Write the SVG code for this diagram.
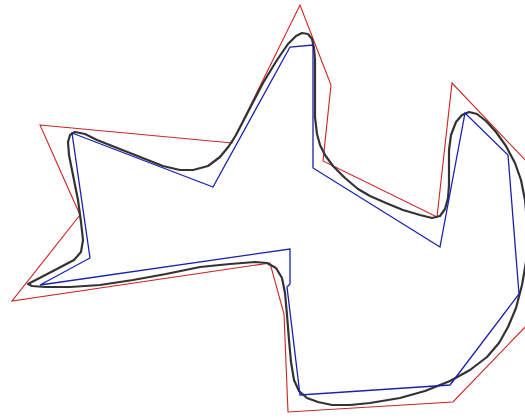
<svg xmlns="http://www.w3.org/2000/svg" width="525" height="419" viewBox="0 0 525 419">
<style>
.red{fill:none;stroke:#d02020;stroke-width:1.1;stroke-linejoin:miter}
.blue{fill:none;stroke:#1a20b0;stroke-width:1.3;stroke-linejoin:miter}
.curve{fill:none;stroke:#333333;stroke-width:2.2;stroke-linejoin:round;stroke-linecap:round}
</style>
<rect width="525" height="419" fill="#ffffff"/>
<polygon id="red" class="red" points="40,125 232,143 300,5 331,85 323,161 437,217 452,83 605,244 453,402 288,412 284,314 270,263 12,301 80,215"/>
<path id="curve" class="curve" d="M28,284 L55,270 L74,260 L81,252 L83,240 L81,222 L78,200 L73,175 L69,155 L68,142 L70,135 L75,132 L85,134 L97,140 L130,153 L163,166 L180,170 L193,170 L208,166 L220,157 L229,146 L236,135 L250,108 L263,83 L277,60 L288,44 L296,36 L302,33 L308,34 L312,39 L314,48 L315,60 L315,80 L315,117 L317,134 L320,145 L325,155 L333,166 L345,178 L358,189 L370,196 L386,203 L403,210 L420,215 L432,218 L440,216 L445,209 L448,198 L449,185 L449,168 L449,150 L451,135 L456,122 L462,115 L469,112 L477,114 L486,121 L496,132 L506,146 L515,163 L521,180 L525,200 L527,222 L528,242 L526,262 L522,285 L516,308 L508,327 L499,343 L487,357 L470,370 L450,381 L425,391 L400,398 L370,403 L350,405 L332,405 L318,402 L307,398 L299,391 L294,380 L291,362 L289,340 L287,315 L285,293 L282,278 L276,268 L267,263 L255,262 L230,264 L200,267 L166,274 L133,280 L100,285 L70,287 L45,287 L32,286 Z"/>
<polygon id="blue" class="blue" points="72,133 213,187 290,47 313,45 313,168 440,247 465,113 508,155 519,294 450,385 300,395 287,287 290,284 290,249 40,285 90,258"/>
</svg>
